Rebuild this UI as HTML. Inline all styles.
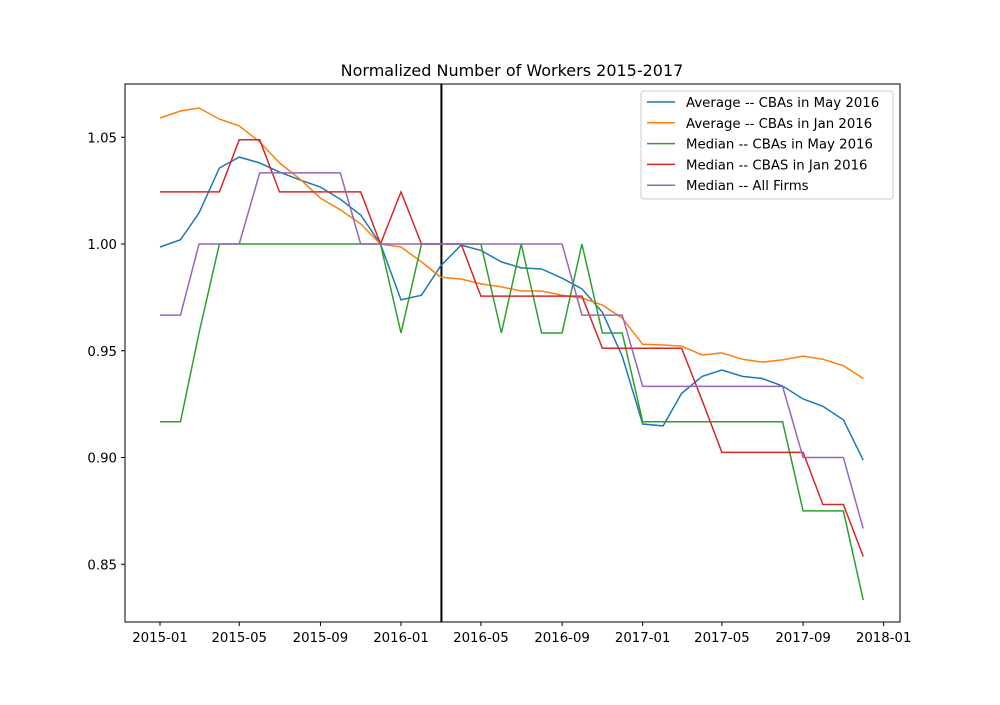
<!DOCTYPE html>
<html><head><meta charset="utf-8"><style>
body{margin:0;background:#fff}
svg{font-family:"DejaVu Sans","Liberation Sans",sans-serif}
</style></head><body>
<svg id="chart" width="1000" height="700" viewBox="0 0 1000 700" xmlns="http://www.w3.org/2000/svg">
<rect width="1000" height="700" fill="#fff"/>
<text x="512" y="76" text-anchor="middle" font-size="16">Normalized Number of Workers 2015-2017</text>
<g id="plot"></g>
<rect x="125" y="84" width="775" height="538" fill="none" stroke="#000" stroke-width="1"/>
</svg>
<script>
const avgMay=[0.9986,1.002,1.0145,1.0356,1.0407,1.038,1.0337,1.030,1.0267,1.021,1.0136,1.000,0.9738,0.976,0.9897,0.9995,0.997,0.9916,0.9888,0.9883,0.984,0.979,0.968,0.9475,0.9157,0.9148,0.930,0.938,0.941,0.938,0.937,0.9335,0.9274,0.924,0.9176,0.8988];
const avgJan=[1.059,1.0623,1.0637,1.0585,1.0553,1.0478,1.038,1.0304,1.0215,1.016,1.0094,1.000,0.9986,0.9916,0.9845,0.9836,0.9813,0.9799,0.978,0.978,0.976,0.9747,0.9714,0.9653,0.953,0.9527,0.9522,0.948,0.949,0.946,0.9447,0.9457,0.9475,0.946,0.943,0.937];
const medMay=[0.9167,0.9167,0.9583,1,1,1,1,1,1,1,1,1,0.9583,1,1,1,1,0.9583,1,0.9583,0.9583,1,0.9583,0.9583,0.9167,0.9167,0.9167,0.9167,0.9167,0.9167,0.9167,0.9167,0.875,0.875,0.875,0.8333];
const medJan=[1.0244,1.0244,1.0244,1.0244,1.0488,1.0488,1.0244,1.0244,1.0244,1.0244,1.0244,1.0,1.0244,1.0,1.0,1.0,0.9756,0.9756,0.9756,0.9756,0.9756,0.9756,0.9512,0.9512,0.9512,0.9512,0.9512,0.9268,0.9024,0.9024,0.9024,0.9024,0.9024,0.878,0.878,0.8537];
const medAll=[0.9667,0.9667,1,1,1,1.0333,1.0333,1.0333,1.0333,1.0333,1,1,1,1,1,1,1,1,1,1,1,0.9667,0.9667,0.9667,0.9333,0.9333,0.9333,0.9333,0.9333,0.9333,0.9333,0.9333,0.9,0.9,0.9,0.8667];
const seriesNames=["Average -- CBAs in May 2016","Average -- CBAs in Jan 2016","Median -- CBAs in May 2016","Median -- CBAS in Jan 2016","Median -- All Firms"];
const yTicks=[0.85,0.90,0.95,1.00,1.05];
const xTickLabels=["2015-01","2015-05","2015-09","2016-01","2016-05","2016-09","2017-01","2017-05","2017-09","2018-01"];
const markerDate="2016-03";
const colors=["#1f77b4","#ff7f0e","#2ca02c","#d62728","#9467bd"];
const NS="http://www.w3.org/2000/svg";
const g=document.getElementById('plot');
const d0=Date.UTC(2015,0,1);
function dayOf(s){const [y,m]=s.split('-').map(Number);return (Date.UTC(y,m-1,1)-d0)/864e5;}
function x(s){return 160+dayOf(s)*(241/365);}
function y(v){return 244-(v-1)*2135;}
function monthStr(i){const y0=2015+Math.floor(i/12),m=i%12+1;return y0+'-'+(m<10?'0':'')+m;}
function el(t,a){const e=document.createElementNS(NS,t);for(const k in a)e.setAttribute(k,a[k]);g.appendChild(e);return e;}
yTicks.forEach(v=>{
 const t=el('line',{x1:121,x2:125,y1:y(v),y2:y(v),stroke:'#000'});
 
 
 const l=el('text',{x:117,y:y(v)+5,'text-anchor':'end','font-size':13.3});
 
 
 l.textContent=v.toFixed(2);
});
xTickLabels.forEach(s=>{
 const t=el('line',{x1:x(s),x2:x(s),y1:622,y2:626,stroke:'#000'});
 
 
 const l=el('text',{x:x(s),y:642,'text-anchor':'middle','font-size':13.3});
 
 
 l.textContent=s;
});
const vl=el('line',{x1:x(markerDate)+0.8,x2:x(markerDate)+0.8,y1:84,y2:622,stroke:'#000','stroke-width':2});


[avgMay,avgJan,medMay,medJan,medAll].forEach((arr,k)=>{
 const p=el('polyline',{points:arr.map((v,i)=>x(monthStr(i)).toFixed(1)+','+y(v).toFixed(1)).join(' '),fill:'none',stroke:colors[k],'stroke-width':1.5});
 
 
});
const lg=el('rect',{x:641,y:91,width:252,height:108,rx:3,fill:'#fff','fill-opacity':0.8,stroke:'#ccc'});


seriesNames.forEach((n,k)=>{
 const yy=102+k*20.8;
 const ln=el('line',{x1:647,x2:675,y1:yy,y2:yy,stroke:colors[k],'stroke-width':1.5});
 
 
 const t=el('text',{x:686,y:yy+5,'font-size':13.3});
 
 
 t.textContent=n;
});
</script>
</body></html>
